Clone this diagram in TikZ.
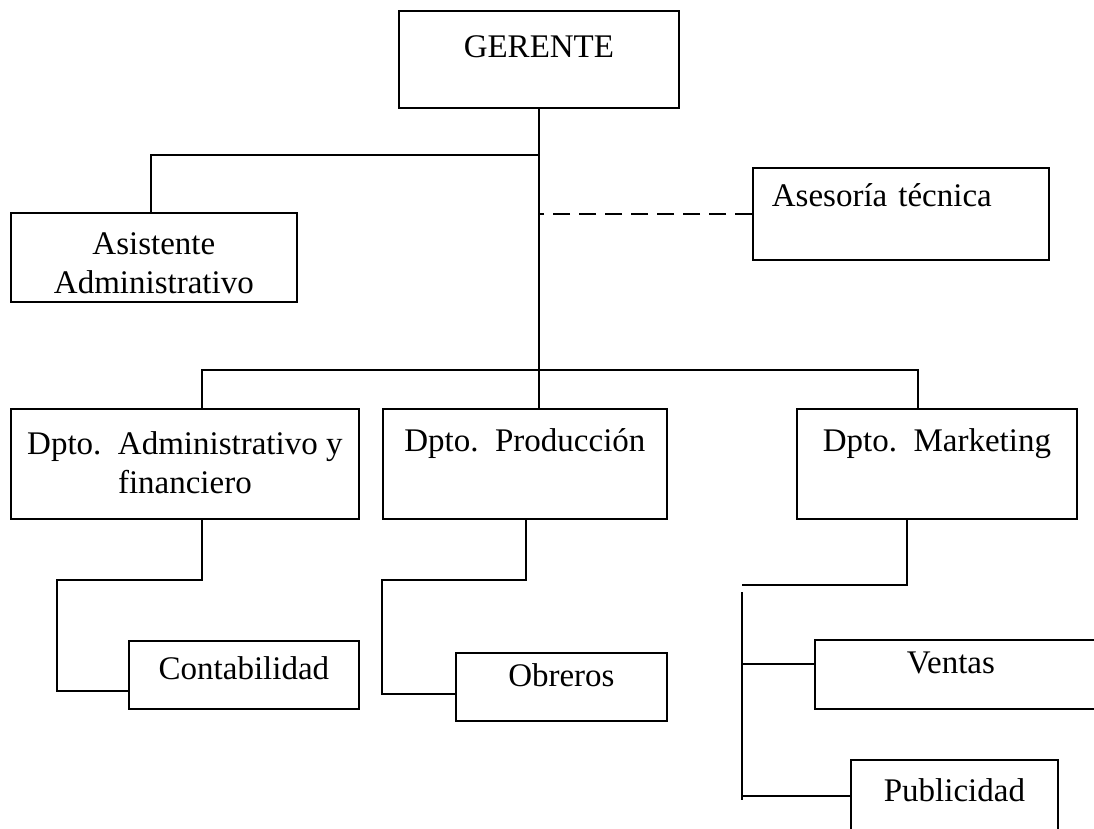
\documentclass[tikz,border=0pt]{standalone}
\usepackage{fontspec}
\setmainfont{Liberation Serif}
\begin{document}
\begin{tikzpicture}[x=1pt, y=-1pt, line width=1.8pt,
    box/.style={draw, inner xsep=0pt, inner ysep=0pt, anchor=north west, align=center,
      font=\fontsize{33}{39}\selectfont}]
  \useasboundingbox (0,0) rectangle (1094,828);
  \clip (0,0) rectangle (1094,828);

  \node[box, minimum width=280pt, text height=47pt, text depth=50pt] (ger) at (398,10) {GERENTE};
  \node[box, minimum width=286pt, text height=81pt, text depth=8pt] (asis) at (10,212) {Asistente\\Administrativo};
  \node[box, minimum width=296pt, text width=258pt, inner xsep=19pt, align=left,
    text height=39pt, text depth=53pt] (ases) at (752,167) {Asesoría técnica};

  \node[box, minimum width=348pt, text height=85pt, text depth=25pt] (adm) at (10,408) {Dpto.\ \ Administrativo y\\financiero};
  \node[box, minimum width=284pt, text height=43pt, text depth=67pt] (prod) at (382,408) {Dpto.\ \ Producción};
  \node[box, minimum width=280pt, text height=43pt, text depth=67pt] (mkt) at (796,408) {Dpto.\ \ Marketing};

  \node[box, minimum width=230pt, text height=39pt, text depth=29pt] (cont) at (128,640) {Contabilidad};
  \node[box, minimum width=211pt, text height=34pt, text depth=34pt] (obr) at (455,652) {Obreros};
  \node[box, minimum width=300pt, text height=34pt, text depth=35pt] (vent) at (814,639) {Ventas\hspace*{28pt}};
  \node[box, minimum width=207pt, text height=42pt, text depth=60pt] (pub) at (850,759) {Publicidad};

  % upper levels
  \coordinate (jA) at (538,155);
  \coordinate (busL) at (202,370);
  \coordinate (busR) at (918,370);
  \draw (ger.south) -- (ger.south |- prod.north);
  \draw ([xshift=-3pt]asis.north) |- (jA);
  \draw[dash pattern=on 17pt off 9pt] (ases.west) -- (ases.west -| ger.south);
  \draw (busL |- adm.north) |- (busR) -- (busR |- mkt.north);

  % lower levels
  \coordinate (kA) at (57,580);
  \coordinate (cj) at ([yshift=-16pt]cont.west);
  \draw (busL |- adm.south) |- (kA) |- (cj);
  \coordinate (kP) at (382,580);
  \coordinate (oj) at ([yshift=-7pt]obr.west);
  \draw (526,518) |- (kP) |- (oj);
  \coordinate (kM) at (742,585);
  \coordinate (railT) at (742,592);
  \coordinate (railB) at (742,800);
  \draw ([xshift=-30pt]mkt.south) |- (kM);
  \draw (railT) -- (railB);
  \coordinate (vj) at ([yshift=10.5pt]vent.west);
  \coordinate (pj) at ([yshift=-37pt]pub.north west);
  \draw (vj) -- (vj -| railT);
  \draw (pj) -- (pj -| railT);
\end{tikzpicture}
\end{document}
